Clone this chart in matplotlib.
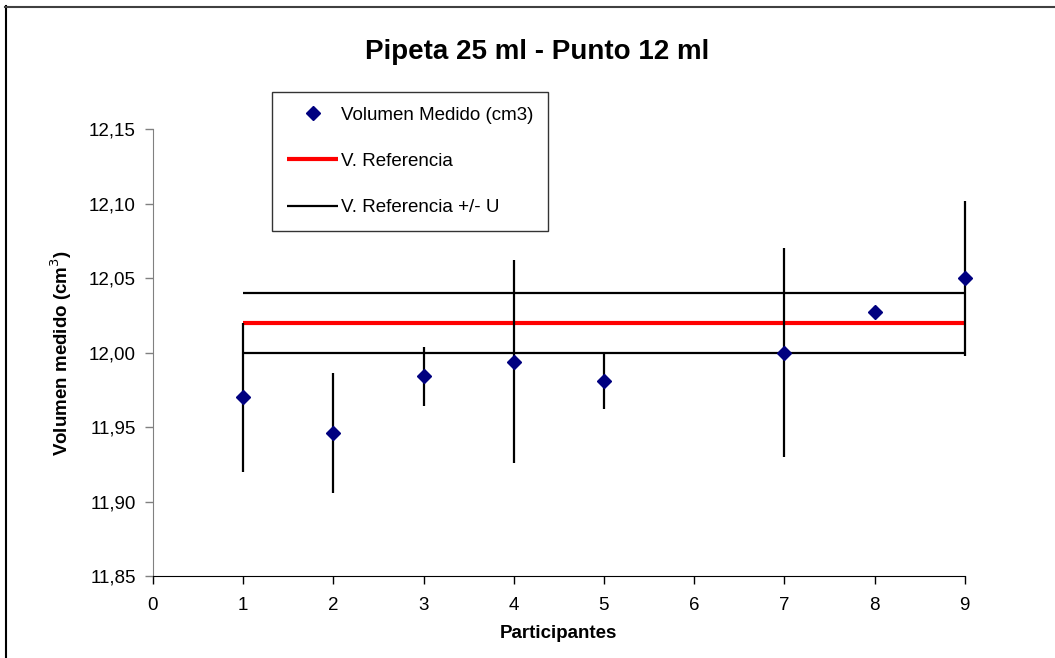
import matplotlib
matplotlib.use("Agg")
import matplotlib.pyplot as plt
from matplotlib.lines import Line2D
from matplotlib.ticker import FuncFormatter

plt.rcParams['font.family'] = ['Liberation Sans', 'DejaVu Sans']

# ==================== datos ====================
participantes = [1, 2, 3, 4, 5, 7, 8, 9]
volumen_medido = [11.970, 11.946, 11.984, 11.994, 11.981, 12.000, 12.027, 12.050]
incertidumbre = [0.050, 0.040, 0.020, 0.068, 0.019, 0.070, 0.004, 0.052]

v_referencia = 12.02
u_referencia = 0.02
x_ref = [1, 9]

titulo = 'Pipeta 25 ml - Punto 12 ml'
x_ticks = list(range(0, 10))
y_ticks = [11.85, 11.90, 11.95, 12.00, 12.05, 12.10, 12.15]

W, H = 1055, 658
fig = plt.figure(figsize=(W / 100, H / 100), dpi=100)
ax = fig.add_axes([153 / W, (H - 576) / H, (964.7 - 153) / W, (576 - 129.3) / H])

# líneas de referencia +/- U
ax.plot(x_ref, [v_referencia + u_referencia] * 2, color='black', lw=1.6, zorder=2,
        solid_capstyle='butt', clip_on=False)
ax.plot(x_ref, [v_referencia - u_referencia] * 2, color='black', lw=1.6, zorder=2,
        solid_capstyle='butt', clip_on=False, label='V. Referencia +/- U')
ax.plot(x_ref, [v_referencia] * 2, color='#ff0000', lw=3, zorder=2.5,
        solid_capstyle='butt', clip_on=False, label='V. Referencia')

# barras de error + puntos medidos
eb = ax.errorbar(participantes, volumen_medido, yerr=incertidumbre, fmt='none',
                 ecolor='black', elinewidth=1.6, capsize=0, zorder=3)
for c in eb.lines[2]:
    c.set_clip_on(False)
ax.plot(participantes, volumen_medido, linestyle='none', marker='D', markersize=7,
        color='#000080', markeredgecolor='#000080', zorder=4, clip_on=False,
        label='Volumen Medido (cm3)')

ax.set_xlim(0, 9)
ax.set_ylim(11.85, 12.15)
ax.set_xticks(x_ticks)
ax.set_yticks(y_ticks)
ax.yaxis.set_major_formatter(FuncFormatter(lambda v, p: f'{v:.2f}'.replace('.', ',')))

for s in ['top', 'right']:
    ax.spines[s].set_visible(False)
ax.spines['left'].set_color('#808080')
ax.spines['bottom'].set_color('black')
ax.tick_params(axis='y', direction='out', length=6, width=1, color='#808080',
               labelsize=13.5, pad=6.5)
ax.tick_params(axis='x', direction='out', length=6, width=1, color='black',
               labelsize=13.5, pad=9)

ax.set_xlabel('Participantes', fontsize=13.5, fontweight='bold')
ax.set_ylabel('Volumen medido (cm$^3$)', fontsize=13.5, fontweight='bold')
ax.xaxis.set_label_coords(0.5, (576 - 634) / (576 - 129.3))
ax.xaxis.label.set_va('center')
ax.yaxis.set_label_coords((61 - 153) / (964.7 - 153), 0.5)
ax.yaxis.label.set_va('center')

fig.text(537.5 / W, 1 - 52 / H, titulo, fontsize=20, fontweight='bold',
         ha='center', va='center')

# leyenda
h, l = ax.get_legend_handles_labels()
orden = ['Volumen Medido (cm3)', 'V. Referencia', 'V. Referencia +/- U']
hh = [h[l.index(o)] for o in orden]
leg = ax.legend(hh, orden, loc='upper left', bbox_to_anchor=(272.3 / W, 1 - 91.7 / H),
                bbox_transform=fig.transFigure, fontsize=13.5, frameon=True,
                fancybox=False, shadow=False, borderpad=0.8, labelspacing=1.55,
                handlelength=2.7, handletextpad=0.15, borderaxespad=0)
leg.get_frame().set_edgecolor('black')
leg.get_frame().set_linewidth(1.0)

# marco del gráfico (recortado a la derecha y abajo)
fig.add_artist(Line2D([5.5 / W, 5.5 / W], [0, 1 - 6 / H], color='black', lw=1.5,
                      transform=fig.transFigure))
fig.add_artist(Line2D([5 / W, 1], [1 - 6.5 / H, 1 - 6.5 / H], color='#404040', lw=1.5,
                      transform=fig.transFigure))

fig.savefig('out.png', dpi=100)
